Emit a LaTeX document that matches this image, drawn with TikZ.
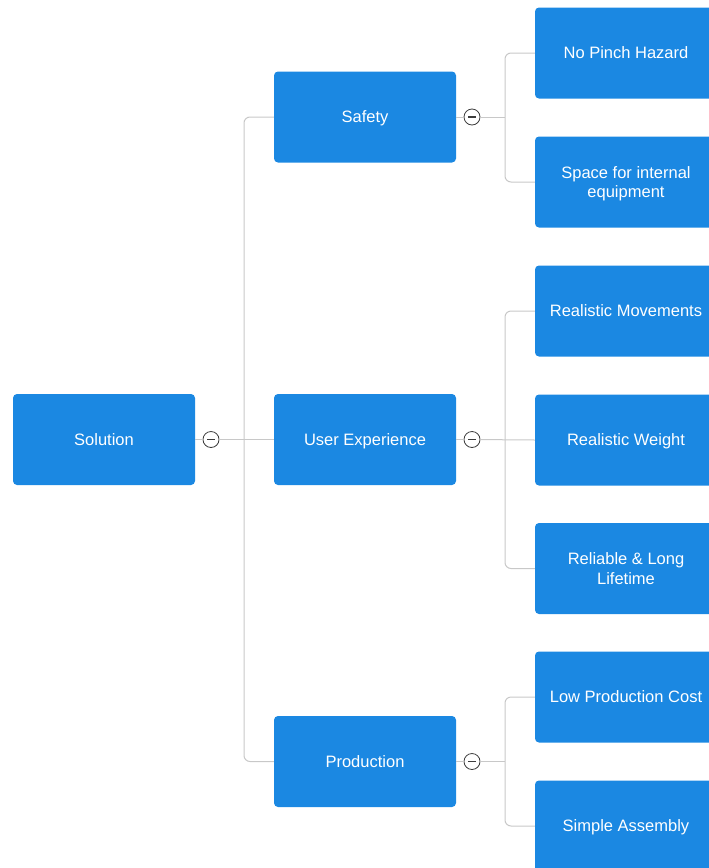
\documentclass[tikz,border=0pt]{standalone}
\usepackage{fontspec}
\setmainfont{Liberation Sans}
\definecolor{boxblue}{RGB}{27,136,226}
\definecolor{linegray}{RGB}{200,200,200}
\definecolor{circgray}{RGB}{60,60,60}
\begin{document}
\begin{tikzpicture}[x=1pt,y=-1pt,
  topic/.style={rectangle, rounded corners=4pt, fill=boxblue, text=white,
    minimum width=182pt, minimum height=91pt, align=center,
    font=\fontsize{16.5}{19.5}\selectfont, inner sep=0pt, text depth=0pt},
  conn/.style={draw=linegray, line width=1pt},
  trunk/.style={conn, rounded corners=6pt},
  collapse/.style={circle, draw=circgray, fill=white, line width=0.8pt,
    minimum size=16pt, inner sep=0pt,
    path picture={\draw[circgray, line width=1.3pt] ([xshift=-3.8pt]path picture bounding box.center) -- ([xshift=3.8pt]path picture bounding box.center);}}]
\useasboundingbox (0,0) rectangle (709,868);
\clip (0,0) rectangle (709,868);
% nodes
\node[topic] (sol) at (104,439.5) {Solution};
\node[topic] (saf) at (365,117) {Safety};
\node[topic] (ux) at (365,439.5) {User Experience};
\node[topic] (prod) at (365,761.5) {Production};
\node[topic] (l1) at (626,53) {No Pinch Hazard};
\node[topic] (l2) at (626,182) {Space for internal\\equipment};
\node[topic] (l3) at (626,311) {Realistic Movements};
\node[topic] (l4) at (626,440) {Realistic Weight};
\node[topic] (l5) at (626,568.5) {Reliable \& Long\\Lifetime};
\node[topic] (l6) at (626,697) {Low Production Cost};
\node[topic] (l7) at (626,826) {Simple Assembly};
% collapse markers
\node[collapse] (c0) at (211,439.5) {};
\node[collapse] (c1) at (472,117) {};
\node[collapse] (c2) at (472,439.5) {};
\node[collapse] (c3) at (472,761.5) {};
% trunk coordinates
\coordinate (t0) at (244,439.5);
\coordinate (t1) at (505,117);
\coordinate (t2) at (505,439.5);
\coordinate (t3) at (505,761.5);
% connectors level 1
\draw[conn] (sol.east) -- (c0);
\draw[conn] (c0) -- (ux.west);
\draw[trunk] (saf.west) -| (t0) |- (prod.west);
% Safety group
\draw[conn] (saf.east) -- (c1);
\draw[conn] (c1) -- (t1);
\draw[trunk] (l1.west) -| (t1) |- (l2.west);
% UX group
\draw[conn] (ux.east) -- (c2);
\draw[conn] (c2) -- (l4.west);
\draw[trunk] (l3.west) -| (t2) |- (l5.west);
% Production group
\draw[conn] (prod.east) -- (c3);
\draw[conn] (c3) -- (t3);
\draw[trunk] (l6.west) -| (t3) |- (l7.west);
\end{tikzpicture}
\end{document}
